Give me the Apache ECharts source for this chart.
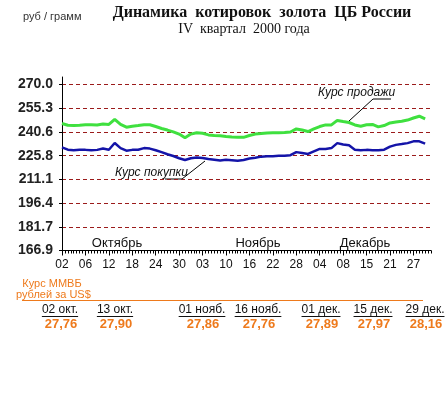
<!DOCTYPE html>
<html><head><meta charset="utf-8">
<script src="https://cdn.jsdelivr.net/npm/echarts@6/dist/echarts.min.js"></script>
<style>html,body{margin:0;padding:0;background:#fff}#c{width:447px;height:406px}</style>
</head><body><div id="c"></div>
<script>
const dates = ['02','03','04','05','06','09','10','11','12','13','16','17','18','19','20','23','24','25','26','27','30','31',
  '01','02','03','06','08','09','10','13','14','15','16','17','20','21','22','23','24','27','28','29','30',
  '01','04','05','06','07','08','11','13','14','15','18','19','20','21','22','25','26','27','28','29'];
const sellRate = [245.8,244.7,244.5,244.7,245.0,245.0,244.9,245.5,245.2,248.3,
  245.2,243.5,244.1,244.5,245.0,245.0,243.9,242.7,241.7,240.6,
  239.2,236.9,239.2,240.0,239.7,238.7,238.3,238.1,237.7,237.4,
  237.2,237.2,238.3,239.2,239.5,239.9,240.0,240.0,240.2,240.5,
  242.4,241.7,240.8,242.4,243.9,244.9,244.9,247.7,247.0,246.4,
  244.9,244.1,245.0,245.2,243.7,244.5,246.1,246.7,247.2,247.9,
  249.2,250.3,248.6];
const buyRate = [231.0,229.5,229.1,229.5,229.4,229.1,229.4,230.2,229.5,233.7,
  230.5,228.9,229.4,229.5,230.5,230.2,229.2,228.0,226.7,225.6,
  224.2,223.1,224.2,224.7,224.4,223.7,223.3,222.8,223.2,223.0,
  222.7,223.1,224.0,224.5,225.2,225.4,225.5,225.7,225.8,226.1,
  228.0,227.5,226.9,228.5,230.0,230.0,230.5,233.6,232.7,232.2,
  229.5,229.1,229.4,229.2,229.2,229.5,231.4,232.5,233.0,233.6,
  234.7,234.7,233.3];
const yTickLabels = ['166.9','181.7','196.4','211.1','225.8','240.6','255.3','270.0'];
const months = ['Октябрь','Ноябрь','Декабрь'];
const mmvbDates = ['02 окт.','13 окт.','01 нояб.','16 нояб.','01 дек.','15 дек.','29 дек.'];
const mmvbValues = ['27,76','27,90','27,86','27,76','27,89','27,97','28,16'];

// layout (not data)
const Y_MIN = 166.9, Y_MAX = 270.0, Y_TOP = 274.66;
const yTicks = yTickLabels.map((_, k) => Y_MIN + k * (Y_MAX - Y_MIN) / (yTickLabels.length - 1));
const monthX = [117, 258, 365];
const mmvbX = [60, 115, 202, 258, 321, 373, 425];
const orange = '#ee7a1c';

const axisCats = dates.concat(['']);
const tickCats = [];
for (let i = 0; i < axisCats.length * 2 - 1; i++) tickCats.push(String(i));

const cv = document.createElement('canvas').getContext('2d');
function tw(txt, font) { cv.font = font; return cv.measureText(txt).width; }

const graphics = [];
graphics.push({type:'text', left: 23, top: 11, style:{text:'руб / грамм', font:'11px "Liberation Sans", Arial', fill:'#333'}});
graphics.push({type:'text', x: 262, y: 13, style:{text:'Динамика  котировок  золота  ЦБ России', font:'bold 16px "Liberation Serif", "Times New Roman"', fill:'#111', align:'center', verticalAlign:'middle'}});
graphics.push({type:'text', x: 244, y: 29, style:{text:'IV  квартал  2000 года', font:'14px "Liberation Serif", "Times New Roman"', fill:'#111', align:'center', verticalAlign:'middle'}});
months.forEach((m, k) => graphics.push({type:'text', x: monthX[k], y: 243, style:{text:m, font:'13px "Liberation Sans", Arial', fill:'#111', align:'center', verticalAlign:'middle'}}));
// annotations
graphics.push({type:'text', x: 318, y: 93, style:{text:'Курс продажи', font:'italic 12px "Liberation Sans", Arial', fill:'#111', verticalAlign:'middle'}});
graphics.push({type:'polyline', shape:{points:[[391,99],[373,99],[349,121]]}, style:{stroke:'#000', lineWidth:1, fill:null}});
graphics.push({type:'text', x: 115, y: 173, style:{text:'Курс покупки', font:'italic 12px "Liberation Sans", Arial', fill:'#111', verticalAlign:'middle'}});
graphics.push({type:'polyline', shape:{points:[[165,179],[182,179],[205,161]]}, style:{stroke:'#000', lineWidth:1, fill:null}});
// MMVB block
graphics.push({type:'text', x: 52, y: 284, style:{text:'Курс ММВБ', font:'11px "Liberation Sans", Arial', fill:orange, align:'center', verticalAlign:'middle'}});
graphics.push({type:'text', x: 16, y: 295, style:{text:'рублей за US$', font:'11px "Liberation Sans", Arial', fill:orange, verticalAlign:'middle'}});
graphics.push({type:'line', shape:{x1:22, y1:300.5, x2:423, y2:300.5}, style:{stroke:orange, lineWidth:1.2}});
const dFont = '12px "Liberation Sans", Arial';
mmvbDates.forEach((d, k) => {
  const w = tw(d, dFont);
  graphics.push({type:'text', x: mmvbX[k], y: 310, style:{text:d, font:dFont, fill:'#111', align:'center', verticalAlign:'middle'}});
  graphics.push({type:'line', shape:{x1: mmvbX[k]-w/2, y1:316.5, x2: mmvbX[k]+w/2, y2:316.5}, style:{stroke:'#111', lineWidth:1}});
});
mmvbValues.forEach((v, k) => graphics.push({type:'text', x: mmvbX[k] + 1, y: 324, style:{text:v, font:'bold 13px "Liberation Sans", Arial', fill:orange, align:'center', verticalAlign:'middle'}}));

const chart = echarts.init(document.getElementById('c'), null, {renderer:'canvas'});
chart.setOption({
  animation: false,
  backgroundColor: '#fff',
  grid: {left: 62, right: 16, top: 77, bottom: 155.5, containLabel: false},
  xAxis: [{
    type:'category', data: axisCats, boundaryGap:false,
    axisLine:{lineStyle:{color:'#000', width:1}},
    axisTick:{show:true, interval:3, length:5, lineStyle:{color:'#000'}},
    axisLabel:{interval:3, color:'#111', fontSize:12, fontFamily:'"Liberation Sans", Arial', margin:8},
    splitLine:{show:false}
  },{
    type:'category', data: tickCats, boundaryGap:false, position:'bottom',
    axisLine:{show:false},
    axisTick:{show:true, interval:0, length:3, lineStyle:{color:'#000'}},
    axisLabel:{show:false}, splitLine:{show:false}
  }],
  yAxis: {
    type:'value', min: Y_MIN, max: Y_TOP,
    axisLine:{show:true, lineStyle:{color:'#000', width:1}},
    axisTick:{show:true, length:3, customValues: yTicks, lineStyle:{color:'#000'}},
    axisLabel:{customValues: yTicks, color:'#222', fontSize:14, fontWeight:'bold', fontFamily:'"Liberation Sans", Arial', margin:9,
      formatter: v => { const k = Math.round((v - Y_MIN) / ((Y_MAX - Y_MIN) / 7)); return yTickLabels[k] || ''; }},
    splitLine:{show:true, lineStyle:{color:'#9b1b1b', type:[4,3], width:1}}
  },
  series: [
    {name:'Курс продажи', type:'line', data: sellRate, symbol:'none', xAxisIndex:0,
      lineStyle:{color:'#3fe03f', width:3}, z:3},
    {name:'Курс покупки', type:'line', data: buyRate, symbol:'none', xAxisIndex:0,
      lineStyle:{color:'#1414a8', width:2.5}, z:3}
  ],
  graphic: graphics
});
</script></body></html>
